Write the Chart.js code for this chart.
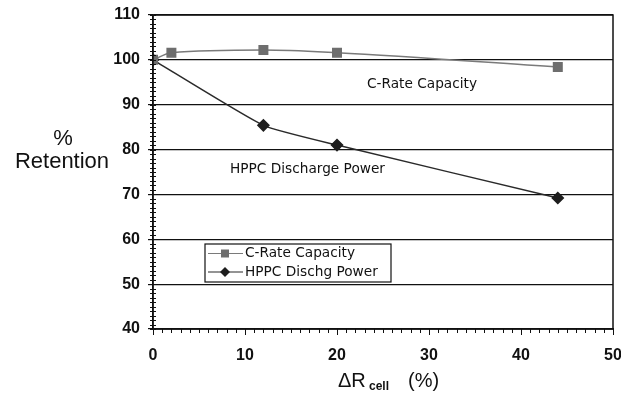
<!DOCTYPE html>
<html>
<head>
<meta charset="utf-8">
<script src="https://cdn.jsdelivr.net/npm/chart.js@4"></script>
<style>
  html, body { margin: 0; padding: 0; background: #fff; }
  #wrap { width: 621px; height: 399px; }
</style>
</head>
<body>
<div id="wrap"><canvas id="retentionChart" width="621" height="399"></canvas></div>
<script>
// resistance growth (%) and retention (%) for each test
const cRateX = [0, 2, 12, 20, 44];
const cRateY = [100, 101.6, 102.2, 101.6, 98.4];
const hppcX = [0, 12, 20, 44];
const hppcY = [100, 85.4, 81.0, 69.2];
const xTicks = [0, 10, 20, 30, 40, 50];
const yTicks = [40, 50, 60, 70, 80, 90, 100, 110];
const seriesNames = ["C-Rate Capacity", "HPPC Dischg Power"];
const curveLabels = ["C-Rate Capacity", "HPPC Discharge Power"];

const toPoints = (xs, ys) => xs.map((x, i) => ({ x: x, y: ys[i] }));

const tickFont = { family: "'Liberation Sans', Arial, sans-serif", size: 16, weight: "bold" };
const textFont = "13.7px 'DejaVu Sans', Verdana, sans-serif";

// extra drawing: plot frame, minor ticks, axis titles, in-plot labels and legend box
const decorations = {
    id: "decorations",
    afterDraw(chart) {
        const ctx = chart.ctx;
        const a = chart.chartArea;
        const xs = chart.scales.x, ys = chart.scales.y;
        ctx.save();

        // frame
        ctx.strokeStyle = "#111";
        ctx.lineWidth = 1.5;
        ctx.strokeRect(a.left, a.top, a.right - a.left, a.bottom - a.top);

        // minor ticks
        ctx.lineWidth = 1;
        ctx.beginPath();
        for (let v = ys.min; v <= ys.max; v += 1) {
            const py = Math.round(ys.getPixelForValue(v)) + 0.5;
            ctx.moveTo(a.left - 3, py);
            ctx.lineTo(a.left + 3, py);
        }
        for (let v = xs.min; v <= xs.max; v += 1) {
            const px = Math.round(xs.getPixelForValue(v)) + 0.5;
            ctx.moveTo(px, a.bottom);
            ctx.lineTo(px, a.bottom + (v % 10 === 0 ? 6 : 4));
        }
        ctx.stroke();

        // y title
        ctx.fillStyle = "#111";
        ctx.textAlign = "center";
        ctx.textBaseline = "alphabetic";
        ctx.font = "22px 'Liberation Sans', Arial, sans-serif";
        ctx.fillText("%", 63, 145);
        ctx.fillText("Retention", 62, 168);

        // x title with subscript
        ctx.textAlign = "left";
        const big = "20px 'Liberation Sans', Arial, sans-serif";
        ctx.font = big;
        ctx.fillText("\u0394R", 338, 387);
        ctx.font = "bold 12px 'Liberation Sans', Arial, sans-serif";
        ctx.fillText("cell", 369, 390);
        ctx.font = big;
        ctx.fillText("(%)", 408, 387);

        // curve labels
        ctx.font = textFont;
        ctx.textBaseline = "middle";
        ctx.fillText(curveLabels[0], 367, 84);
        ctx.fillText(curveLabels[1], 230, 169);

        // legend box
        const lx = 205, ly = 244, lw = 186, lh = 38;
        ctx.fillStyle = "#fff";
        ctx.fillRect(lx, ly, lw, lh);
        ctx.strokeStyle = "#111";
        ctx.lineWidth = 1.2;
        ctx.strokeRect(lx, ly, lw, lh);
        chart.data.datasets.forEach((ds, i) => {
            const cy = ly + 9.5 + i * 18.5;
            ctx.strokeStyle = ds.borderColor;
            ctx.lineWidth = 1.2;
            ctx.beginPath();
            ctx.moveTo(lx + 3, cy);
            ctx.lineTo(lx + 38, cy);
            ctx.stroke();
            ctx.fillStyle = ds.pointBackgroundColor;
            ctx.beginPath();
            if (ds.pointStyle === "rect") {
                ctx.rect(lx + 16, cy - 4, 8, 8);
            } else {
                ctx.moveTo(lx + 20, cy - 5);
                ctx.lineTo(lx + 25, cy);
                ctx.lineTo(lx + 20, cy + 5);
                ctx.lineTo(lx + 15, cy);
                ctx.closePath();
            }
            ctx.fill();
            ctx.fillStyle = "#111";
            ctx.font = textFont;
            ctx.fillText(seriesNames[i], lx + 40, cy);
        });
        ctx.restore();
    }
};

new Chart(document.getElementById("retentionChart").getContext("2d"), {
    type: "line",
    data: {
        datasets: [{
            label: seriesNames[0],
            data: toPoints(cRateX, cRateY),
            borderColor: "#7a7a7a",
            borderWidth: 1.5,
            pointStyle: "rect",
            pointRadius: 6,
            pointBackgroundColor: "#6e6e6e",
            pointBorderColor: "#6e6e6e",
            tension: 0.35,
            cubicInterpolationMode: "monotone"
        }, {
            label: seriesNames[1],
            data: toPoints(hppcX, hppcY),
            borderColor: "#2a2a2a",
            borderWidth: 1.5,
            pointStyle: "rectRot",
            pointRadius: 5.5,
            pointBackgroundColor: "#1e1e1e",
            pointBorderColor: "#1e1e1e",
            tension: 0.15
        }]
    },
    options: {
        responsive: false,
        animation: false,
        layout: { padding: { top: 15, right: 8, left: 0, bottom: 0 } },
        plugins: {
            legend: { display: false },
            tooltip: { enabled: false }
        },
        scales: {
            x: {
                type: "linear",
                min: 0,
                max: 50,
                afterFit: s => { s.height = 70; s.paddingLeft = 0; s.paddingRight = 0; },
                afterBuildTicks: s => { s.ticks = xTicks.map(v => ({ value: v })); },
                grid: { display: false },
                border: { color: "#111", width: 1.5 },
                ticks: { color: "#111", font: tickFont, padding: 9, maxRotation: 0 }
            },
            y: {
                min: 40,
                max: 110,
                afterFit: s => { s.width = 153; s.paddingTop = 0; s.paddingBottom = 0; },
                afterBuildTicks: s => { s.ticks = yTicks.map(v => ({ value: v })); },
                grid: { color: "#111", lineWidth: 1.2, tickLength: 5, drawTicks: true },
                border: { color: "#111", width: 1.5 },
                ticks: { color: "#111", font: tickFont, padding: 8 }
            }
        }
    },
    plugins: [decorations]
});
</script>
</body>
</html>
